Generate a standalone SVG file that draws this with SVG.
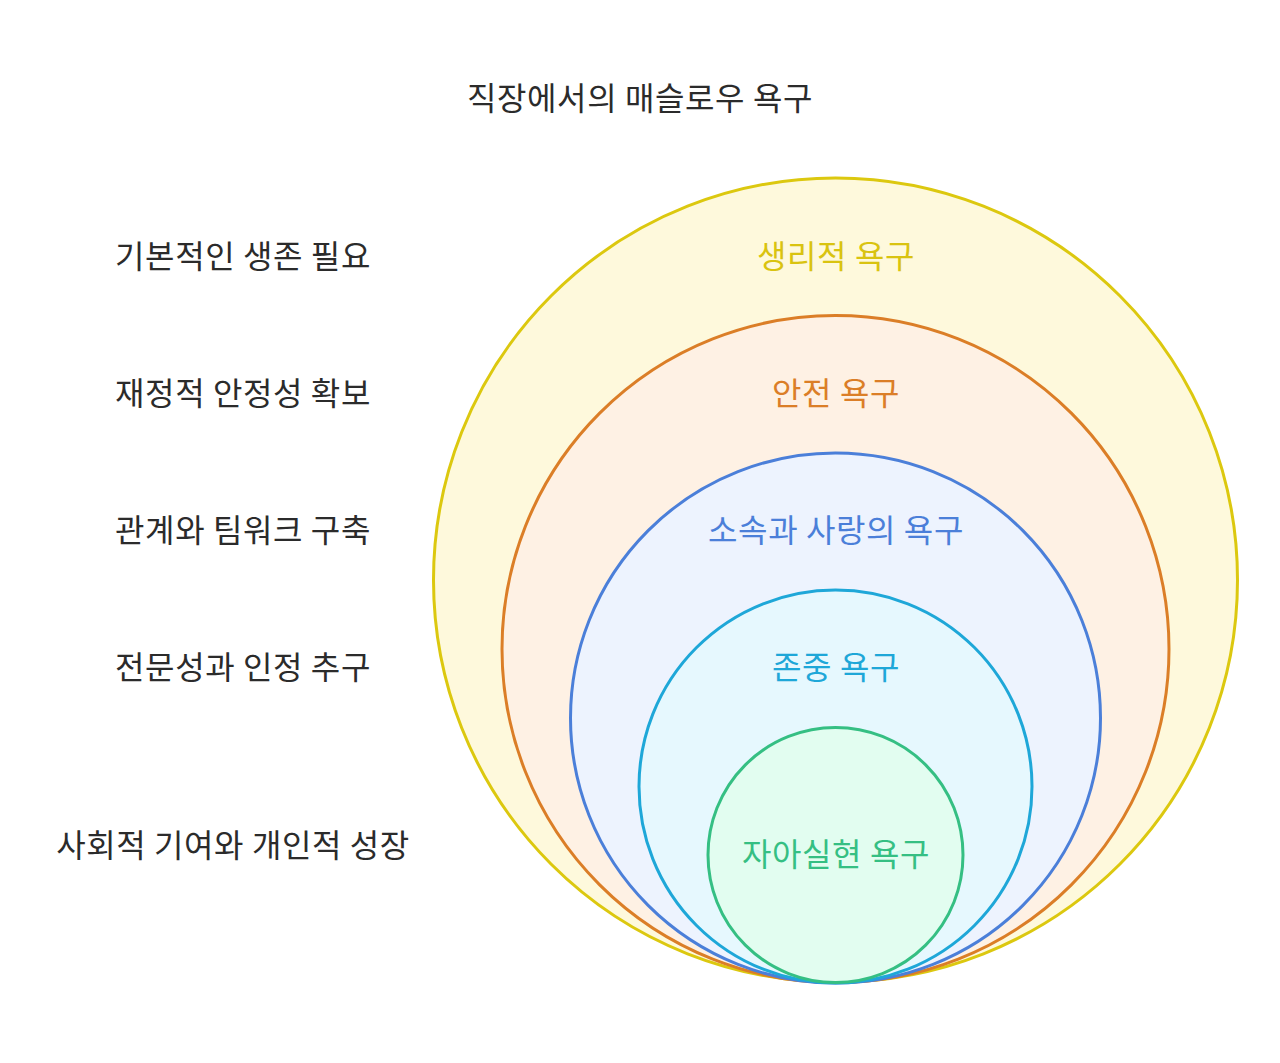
<svg xmlns="http://www.w3.org/2000/svg" width="1280" height="1063" viewBox="0 0 1280 1063">
<style>
text{font-family:"Noto Sans CJK KR","Noto Sans",sans-serif;font-size:32px;letter-spacing:0.6px;text-anchor:middle}
.lbl{fill:#2b2b2b}
circle{stroke-width:3}
</style>
<rect width="1280" height="1063" fill="#ffffff"/>
<text class="lbl" x="640" y="110">직장에서의 매슬로우 욕구</text>
<g id="level1"><circle cx="835.5" cy="580" r="402" fill="#fef9dc" stroke="#dcc80f"/><text x="836" y="268" fill="#d9c310">생리적 욕구</text></g>
<g id="level2"><circle cx="835.5" cy="649" r="333.5" fill="#fef1e4" stroke="#db7e27"/><text x="836" y="405" fill="#db7e27">안전 욕구</text></g>
<g id="level3"><circle cx="835.5" cy="718" r="265" fill="#edf3fe" stroke="#4b7fd9"/><text x="836" y="542" fill="#4b7fd9">소속과 사랑의 욕구</text></g>
<g id="level4"><circle cx="835.5" cy="786.5" r="196.5" fill="#e6f8fe" stroke="#1ea7d8"/><text x="836" y="679" fill="#1ea7d8">존중 욕구</text></g>
<g id="level5"><circle cx="835.5" cy="855" r="127.5" fill="#e2fdf0" stroke="#35bf83"/><text x="836" y="866" fill="#35bf83">자아실현 욕구</text></g>
<g id="desc">
<text class="lbl" x="243" y="268">기본적인 생존 필요</text>
<text class="lbl" x="243" y="405">재정적 안정성 확보</text>
<text class="lbl" x="243" y="542">관계와 팀워크 구축</text>
<text class="lbl" x="243" y="679">전문성과 인정 추구</text>
<text class="lbl" x="233" y="857">사회적 기여와 개인적 성장</text>
</g>
<g id="connectors"/>
</svg>
